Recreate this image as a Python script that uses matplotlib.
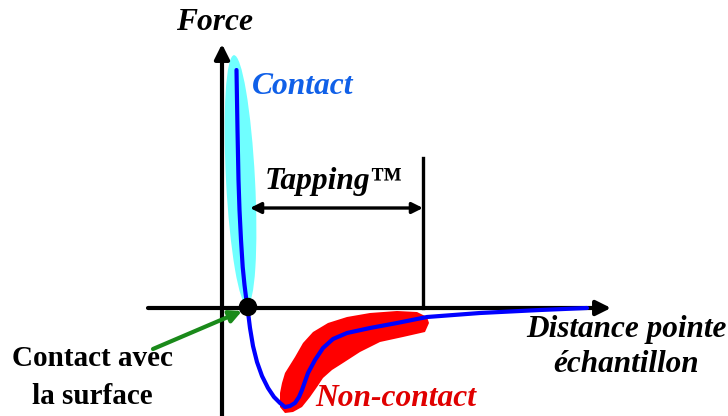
import matplotlib
matplotlib.use("Agg")
import matplotlib.pyplot as plt
from matplotlib.patches import Ellipse, Polygon, Circle

# ---- data (distance, force) in schematic units; origin = axes crossing ----
curve_dist = [14.5, 15.5, 16.5, 17.5, 19, 20.7, 22.5, 24, 25.5, 28, 31, 35, 40, 46, 52,
              58, 63, 68, 73, 77, 80, 86, 93, 101, 111, 125, 148, 175, 205, 258, 318, 365]
curve_force = [238, 178, 128, 98, 68, 41, 23, 11, 0, -20, -38, -54, -68, -80, -89,
               -95, -99, -98, -95, -89, -82, -65, -52, -40, -31, -25, -20, -15, -9, -5, -2, 0]

red_dist = [60, 63, 73, 81, 91, 106, 125, 148, 175, 195, 205, 207,
            203, 181, 158, 138, 121, 110, 101, 95, 88, 80, 71, 63, 58, 58]
red_force = [-75, -65, -49, -35, -24, -15, -9, -5, -3, -4, -9, -15,
             -24, -29, -34, -44, -55, -62, -70, -79, -89, -99, -104, -105, -99, -85]

contact_center = (18.5, 128)   # distance, force
contact_size = (29, 250)
contact_angle = 3

contact_point = (26, 1)
tapping_limit = 201
tapping_top = 150
tapping_y = 100

fig = plt.figure(figsize=(7.28, 4.16), dpi=100)
ax = fig.add_axes([0, 0, 1, 1])
ax.set_xlim(-222, 506)
ax.set_ylim(-108, 308)
ax.axis("off")

serif = ["Liberation Serif", "DejaVu Serif"]

# contact zone (cyan)
ax.add_patch(Ellipse(contact_center, contact_size[0], contact_size[1],
                     angle=contact_angle, color="#70ffff", lw=0, zorder=1))
# non-contact zone (red)
ax.add_patch(Polygon(list(zip(red_dist, red_force)), closed=True,
                     color="#ff0000", lw=0, zorder=1))

# axes arrows
ax.annotate("", xy=(0, 264), xytext=(0, -108),
            arrowprops=dict(arrowstyle="-|>", lw=3, color="black",
                            mutation_scale=22, shrinkA=0, shrinkB=0), zorder=3)
ax.annotate("", xy=(389, 0), xytext=(-74, 0),
            arrowprops=dict(arrowstyle="-|>", lw=3, color="black",
                            mutation_scale=22, shrinkA=0, shrinkB=0), zorder=3)

# tapping
ax.plot([tapping_limit, tapping_limit], [0, tapping_top], color="black", lw=2.4, zorder=3)
ax.annotate("", xy=(28, tapping_y), xytext=(tapping_limit, tapping_y),
            arrowprops=dict(arrowstyle="<|-|>", lw=2.4, color="black",
                            mutation_scale=16, shrinkA=0, shrinkB=0), zorder=3)

# force curve
ax.plot(curve_dist, curve_force, color="#0000ff", lw=3, solid_capstyle="round",
        solid_joinstyle="round", zorder=4)

# contact point
ax.add_patch(Circle(contact_point, 8.5, color="black", zorder=5))

# green arrow
ax.annotate("", xy=(20, -3), xytext=(-69, -41),
            arrowprops=dict(arrowstyle="-|>", lw=3, color="#1a8a1a",
                            mutation_scale=18, shrinkA=0, shrinkB=0), zorder=5)

# texts
bi = dict(family=serif, weight="bold", style="italic")
ax.text(-7.5, 285, "Force", fontsize=22.7, ha="center", va="center", **bi)
ax.text(80.5, 222, "Contact", fontsize=22.7, ha="center", va="center", color="#1060e8", **bi)
ax.text(111.5, 126, "Tapping\u2122", fontsize=22.7, ha="center", va="center", **bi)
ax.text(174, -90, "Non-contact", fontsize=22.7, ha="center", va="center", color="#e00000", **bi)
ax.text(404.5, -22, "Distance pointe", fontsize=22.5, ha="center", va="center", **bi)
ax.text(404, -57, "\u00e9chantillon", fontsize=22.5, ha="center", va="center", **bi)
ax.text(-129.5, -51, "Contact avec", fontsize=21, ha="center", va="center",
        family=serif, weight="bold")
ax.text(-129.5, -89, "la surface", fontsize=21, ha="center", va="center",
        family=serif, weight="bold")

fig.savefig("out.png", dpi=100)
